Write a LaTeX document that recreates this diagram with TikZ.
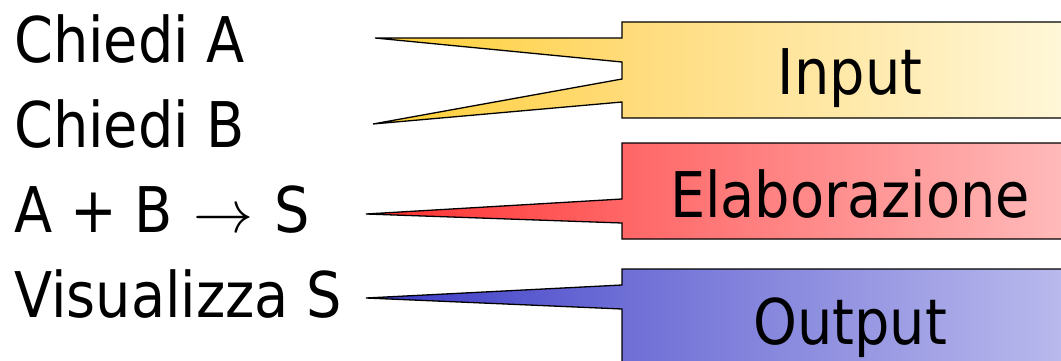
\documentclass[tikz,border=0pt]{standalone}
\usepackage{graphicx}
\usepackage{fontspec}
\setmainfont{DejaVu Sans}[FakeStretch=0.885]
\definecolor{yA}{HTML}{FFD033}
\definecolor{yB}{HTML}{FFDB7A}
\definecolor{yC}{HTML}{FFF8DC}
\definecolor{rA}{HTML}{FF2E2E}
\definecolor{rB}{HTML}{FF6666}
\definecolor{rC}{HTML}{FFBDBD}
\definecolor{bA}{HTML}{3838C6}
\definecolor{bB}{HTML}{6E6ED6}
\definecolor{bC}{HTML}{BCBCEE}
\pgfdeclarehorizontalshading{yelsh}{100bp}{color(0bp)=(yA); color(25bp)=(yA); color(43bp)=(yB); color(75bp)=(yC); color(100bp)=(yC)}
\pgfdeclarehorizontalshading{redsh}{100bp}{color(0bp)=(rA); color(25bp)=(rA); color(43bp)=(rB); color(75bp)=(rC); color(100bp)=(rC)}
\pgfdeclarehorizontalshading{blush}{100bp}{color(0bp)=(bA); color(25bp)=(bA); color(43bp)=(bB); color(75bp)=(bC); color(100bp)=(bC)}
\tikzset{
  callout/.style={draw=black, line width=1.3pt, line join=miter},
  lefttext/.style={anchor=base west, inner sep=0pt, font=\fontsize{63}{70}\selectfont},
  boxtext/.style={anchor=base, inner sep=0pt, font=\fontsize{63}{70}\selectfont},
}
\newcommand{\bigarrowsym}{\hspace{21pt}\resizebox{60pt}{!}{\(\rightarrow\)}\hspace{21pt}}
\begin{document}
\begin{tikzpicture}[x=1pt,y=-1pt]
\useasboundingbox (0,0) rectangle (1061,361);
\clip (0,0) rectangle (1061,361);
% callouts
\path[callout, shading=yelsh] (375,38) -- (622,38) -- (622,22) -- (1080,22) -- (1080,118) -- (622,118) -- (622,102) -- (373,124) -- (622,79) -- (622,62) -- cycle;
\path[callout, shading=redsh] (366,214) -- (622,199) -- (622,143) -- (1080,143) -- (1080,239) -- (622,239) -- (622,223) -- cycle;
\path[callout, shading=blush] (366,298) -- (622,285) -- (622,269) -- (1080,269) -- (1080,366) -- (622,366) -- (622,309) -- cycle;
% left texts
\node[lefttext] (ta) at (14,63) {Chiedi A};
\node[lefttext] (tb) at (14,147) {Chiedi B};
\node[lefttext] (tc) at (14,232) {A + B\bigarrowsym S};
\node[lefttext] (td) at (14,317) {Visualizza S};
% box labels
\node[boxtext] (li) at (850,95) {Input};
\node[boxtext] (le) at (850,217) {Elaborazione};
\node[boxtext] (lo) at (850,344) {Output};
\end{tikzpicture}
\end{document}
